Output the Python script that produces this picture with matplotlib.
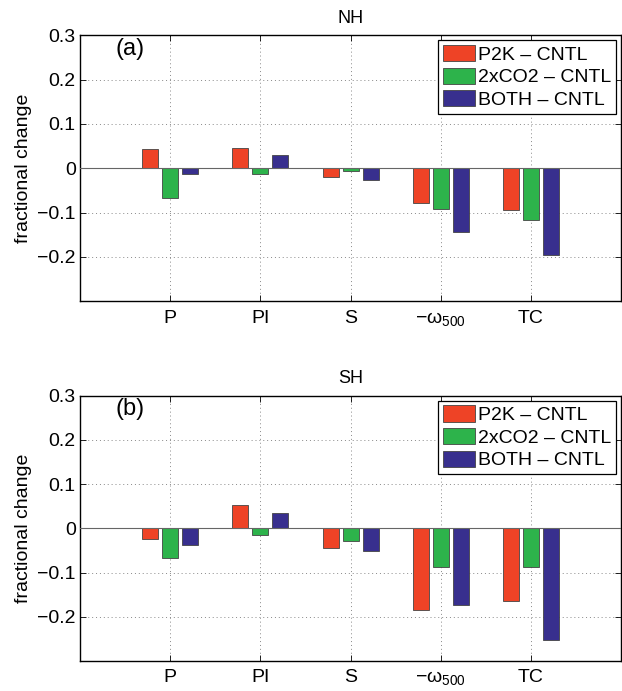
import numpy as np
import matplotlib
matplotlib.use('Agg')
import matplotlib.pyplot as plt

plt.rcParams['font.family'] = ['Liberation Sans', 'DejaVu Sans']
plt.rcParams['mathtext.fontset'] = 'custom'
plt.rcParams['mathtext.rm'] = 'Liberation Sans'
plt.rcParams['mathtext.it'] = 'Liberation Sans'

# data
categories = ['P', 'PI', 'S', '$-\\mathrm{\u03c9}_{500}$', 'TC']
series = ['P2K \u2013 CNTL', '2xCO2 \u2013 CNTL', 'BOTH \u2013 CNTL']
colors = ['#EE4326', '#2DB34B', '#382F8E']

nh_p2k = [0.044, 0.046, -0.019, -0.078, -0.094]
nh_co2 = [-0.067, -0.013, -0.007, -0.091, -0.117]
nh_both = [-0.013, 0.031, -0.027, -0.143, -0.195]

sh_p2k = [-0.025, 0.052, -0.044, -0.184, -0.165]
sh_co2 = [-0.068, -0.014, -0.028, -0.088, -0.088]
sh_both = [-0.037, 0.034, -0.051, -0.174, -0.252]

panels = [
    ('NH', '(a)', [nh_p2k, nh_co2, nh_both]),
    ('SH', '(b)', [sh_p2k, sh_co2, sh_both]),
]

fig = plt.figure(figsize=(6.22, 6.91), dpi=100)
rects = [[0.1286, 0.564, 0.870, 0.385],
         [0.1286, 0.0434, 0.870, 0.384]]

x = np.arange(1, len(categories) + 1)
offsets = [-0.222, 0.0, 0.222]
width = 0.178

for (title, tag, vals), r in zip(panels, rects):
    ax = fig.add_axes(r)
    for v, off, c, lab in zip(vals, offsets, colors, series):
        ax.bar(x + off, v, width, color=c, edgecolor='#444444', linewidth=0.6,
               label=lab, zorder=3)
    ax.axhline(0, color='#666666', lw=0.8, zorder=4)
    ax.set_xlim(0, 6)
    ax.set_ylim(-0.3, 0.3)
    ax.set_yticks([-0.2, -0.1, 0, 0.1, 0.2, 0.3])
    ax.set_yticklabels(['\u22120.2', '\u22120.1', '0', '0.1', '0.2', '0.3'])
    ax.set_xticks(x)
    ax.set_xticklabels(categories)
    ax.tick_params(direction='in', top=True, right=True, labelsize=14,
                   length=4, width=0.6, pad=6)
    ax.tick_params(axis='y', pad=3)
    ax.grid(True, linestyle=(0, (1, 3)), color='#888888', lw=0.7, zorder=0)
    for s in ax.spines.values():
        s.set_linewidth(1.0)
    ax.set_ylabel('fractional change', fontsize=14)
    ax.yaxis.set_label_coords(-0.088, 0.5)
    ax.set_title(title, fontsize=13, pad=9)
    ax.text(0.066, 0.99, tag, transform=ax.transAxes, fontsize=17,
            ha='left', va='top')
    leg = ax.legend(loc='upper right', fontsize=14, fancybox=False,
                    edgecolor='black', framealpha=1, borderpad=0.25,
                    handlelength=1.65, handleheight=0.9, handletextpad=0.15,
                    labelspacing=0.2, borderaxespad=0.25)
    leg.get_frame().set_linewidth(0.9)

fig.savefig('out.png', dpi=100)
